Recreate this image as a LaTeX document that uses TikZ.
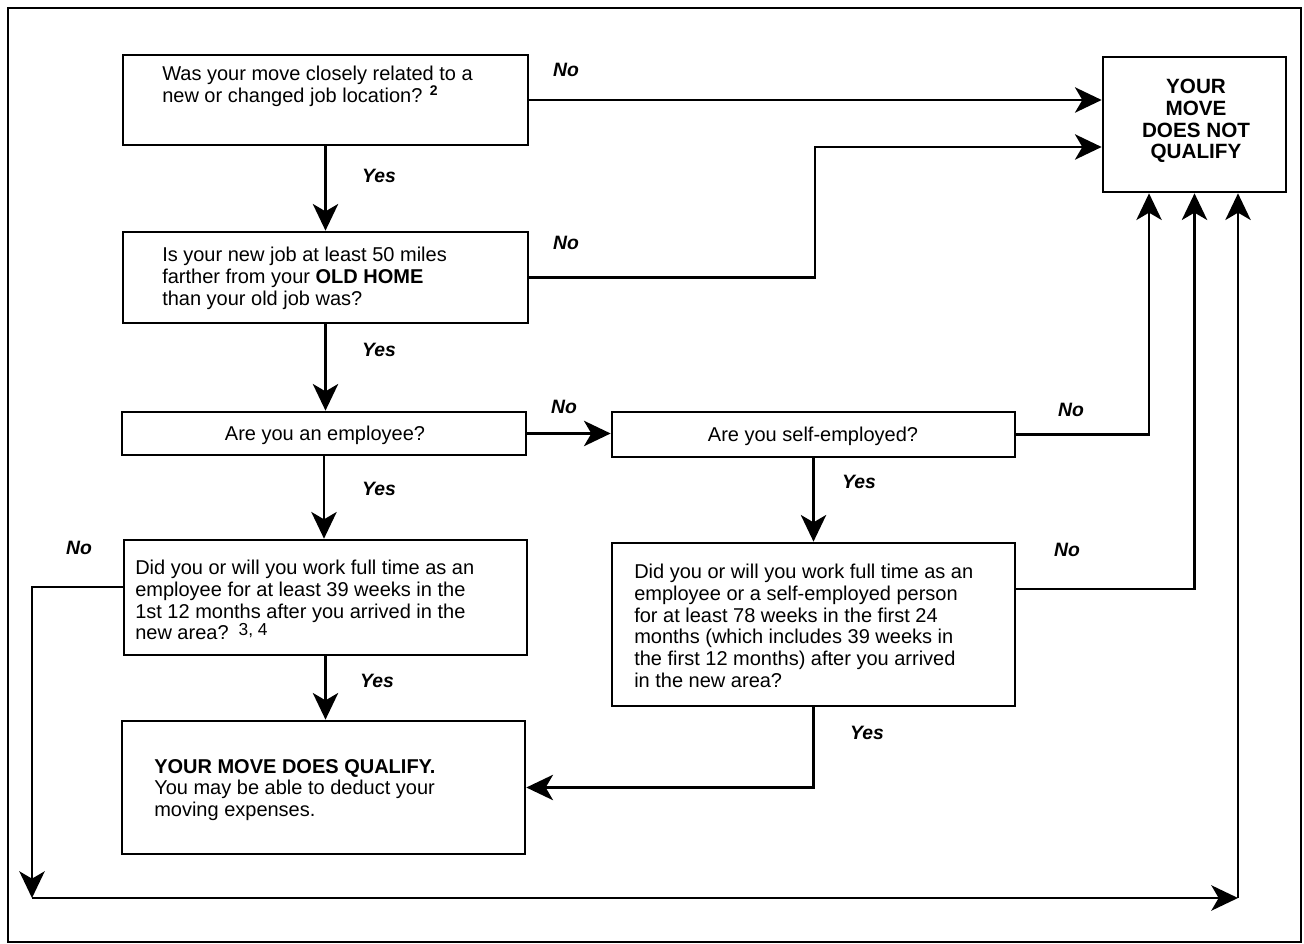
\documentclass[tikz,border=0pt]{standalone}
\usepackage{fontspec}
\setmainfont{Liberation Sans}
\usetikzlibrary{arrows.meta,fit}
\begin{document}
\begin{tikzpicture}[x=0.75pt,y=-0.75pt,
  box/.style={draw, line width=2pt, inner sep=0pt, rectangle},
  txt/.style={inner sep=0pt, align=left, anchor=north west, font=\fontsize{15}{16.3}\selectfont},
  ctxt/.style={inner sep=0pt, font=\fontsize{15}{16.3}\selectfont, align=center},
  lab/.style={inner sep=0pt, font=\fontsize{14.5}{16}\selectfont\bfseries\itshape},
  arr/.style={line width=2pt, -{Stealth[length=20pt,width=19pt,inset=5.5pt]}}]
\useasboundingbox (0,0) rectangle (1304,944);
% outer frame
\draw[line width=1.5pt] (8,8) rectangle (1301,942);

% boxes
\node[box, fit={(123,55)(528,145)}] (b1) {};
\node[txt] (t1) at (162,66) {Was your move closely related to a\\new or changed job location? \textsuperscript{\textbf{2}}};

\node[box, fit={(1103,57)(1286,192)}] (nq) {};
\node[ctxt, font=\fontsize{15.5}{16.3}\selectfont\bfseries] (tq) at (1196,121) {YOUR\\MOVE\\DOES NOT\\QUALIFY};

\node[box, fit={(123,232)(528,323)}] (b2) {};
\node[txt] (t2) at (162,247) {Is your new job at least 50 miles\\farther from your \textbf{OLD HOME}\\than your old job was?};

\node[box, fit={(122,412)(526,455)}] (b3) {};
\node[ctxt] (t3) at (325,435) {Are you an employee?};
\node[box, fit={(612,412)(1015,457)}] (bse) {};
\node[ctxt] (tse) at (813,436) {Are you self-employed?};

\node[box, fit={(124,540)(527,655)}] (b4) {};
\node[txt] (t4) at (135,560) {Did you or will you work full time as an\\employee for at least 39 weeks in the\\1st 12 months after you arrived in the\\new area?\enspace\raisebox{3pt}{\fontsize{13}{13}\selectfont 3, 4}};

\node[box, fit={(612,543)(1015,706)}] (b5) {};
\node[txt] (t5) at (634,564) {Did you or will you work full time as an\\employee or a self-employed person\\for at least 78 weeks in the first 24\\months (which includes 39 weeks in\\the first 12 months) after you arrived\\in the new area?};

\node[box, fit={(122,721)(525,854)}] (b6) {};
\node[txt] (t6) at (154,759) {\textbf{YOUR MOVE DOES QUALIFY.}\\You may be able to deduct your\\moving expenses.};

% connectors
\coordinate (k2) at (815,147);
\coordinate (bl) at (32,898);
\coordinate (br) at (1238,898);

\draw[arr] (b1.east) -- (b1.east -| nq.west);
\draw[arr] (b2.east) -| (k2) -- (k2 -| nq.west);
\draw[arr] (b1.south) -- (b1.south |- b2.north);
\draw[arr] (b2.south) -- (b2.south |- b3.north);
\draw[arr] (b3.south) -- (b3.south |- b4.north);
\draw[arr] (b4.south) -- (b4.south |- b6.north);
\draw[arr] (b3.east) -- (b3.east -| bse.west);
\draw[arr] (bse.south) -- (bse.south |- b5.north);
\draw[arr] (bse.east) -| ([xshift=-34.1pt]nq.south);
\draw[arr] ([yshift=26.6pt]b5.east) -| (nq.south);
\draw[arr] (b5.south) |- (b6.east);
\draw[arr] ([yshift=7.9pt]b4.west) -| (bl);
\draw[arr] (bl) -- (br);
\draw[arr] (br) -- (br |- nq.south);

% labels
\node[lab] (l1) at (566,70) {No};
\node[lab] (l2) at (379,176) {Yes};
\node[lab] (l3) at (566,243) {No};
\node[lab] (l4) at (379,350) {Yes};
\node[lab] (l5) at (564,407) {No};
\node[lab] (l6) at (379,489) {Yes};
\node[lab] (l7) at (1071,410) {No};
\node[lab] (l8) at (859,482) {Yes};
\node[lab] (l9) at (1067,550) {No};
\node[lab] (l10) at (79,548) {No};
\node[lab] (l11) at (377,681) {Yes};
\node[lab] (l12) at (867,733) {Yes};
\end{tikzpicture}
\end{document}
